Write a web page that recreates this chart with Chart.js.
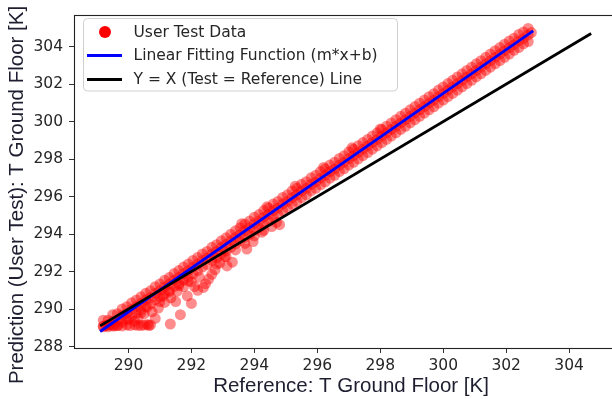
<!DOCTYPE html>
<html>
<head>
<meta charset="utf-8">
<script src="https://cdn.jsdelivr.net/npm/chart.js@4.4.1/dist/chart.umd.min.js"></script>
<style>
  html, body { margin: 0; padding: 0; background: #fff; overflow: hidden; width: 612px; height: 399px; }
  #wrap { position: absolute; left: 0; top: 0; width: 640px; height: 399px; }
</style>
</head>
<body>
<div id="wrap"><canvas id="c" width="640" height="399"></canvas></div>
<script>
// Reference temperature (x) and predicted temperature (y) samples, in K
const refT = [
  // core of the cloud
  289.2, 289.5, 289.8, 290.1, 290.4, 290.7, 291.0, 291.3, 291.6, 291.9, 292.2, 292.5, 292.8, 293.1, 293.4, 293.7,
  294.0, 294.3, 294.6, 294.9, 295.2, 295.5, 295.8, 296.1, 296.4, 296.7, 297.0, 297.3, 297.6, 297.9, 298.2, 298.5,
  298.8, 299.1, 299.4, 299.7, 300.0, 300.3, 300.6, 300.9, 301.2, 301.5, 301.8, 302.1, 302.4, 302.7,
  // core, between the above
  289.35, 289.65, 289.95, 290.25, 290.55, 290.85, 291.15, 291.45, 291.75, 292.05, 292.35, 292.65, 292.95, 293.25, 293.55,
  293.85, 294.15, 294.45, 294.75, 295.05, 295.35, 295.65, 295.95, 296.25, 296.55, 296.85, 297.15, 297.45, 297.75, 298.05,
  298.35, 298.65, 298.95, 299.25, 299.55, 299.85, 300.15, 300.45, 300.75, 301.05, 301.35, 301.65, 301.95, 302.25, 302.55,
  // upper side
  289.2, 289.5, 289.8, 290.1, 290.4, 290.7, 291.0, 291.3, 291.6, 291.9, 292.2, 292.5, 292.8, 293.1, 293.4, 293.7,
  294.0, 294.3, 294.6, 294.9, 295.2, 295.5, 295.8, 296.1, 296.4, 296.7, 297.0, 297.3, 297.6, 297.9, 298.2, 298.5,
  298.8, 299.1, 299.4, 299.7, 300.0, 300.3, 300.6, 300.9, 301.2, 301.5, 301.8, 302.1, 302.4, 302.7,
  289.35, 289.65, 289.95, 290.25, 290.55, 290.85, 291.15, 291.45, 291.75, 292.05, 292.35, 292.65, 292.95, 293.25, 293.55,
  293.85, 294.15, 294.45, 294.75, 295.05, 295.35, 295.65, 295.95, 296.25, 296.55, 296.85, 297.15, 297.45, 297.75, 298.05,
  298.35, 298.65, 298.95, 299.25, 299.55, 299.85, 300.15, 300.45, 300.75, 301.05, 301.35, 301.65, 301.95, 302.25, 302.55,
  // lower side
  289.2, 289.5, 289.8, 290.1, 290.4, 290.7, 291.0, 291.3, 291.6, 291.9, 292.2, 292.5, 292.8, 293.1, 293.4, 293.7,
  294.0, 294.3, 294.6, 294.9, 295.2, 295.5, 295.8, 296.1, 296.4, 296.7, 297.0, 297.3, 297.6, 297.9, 298.2, 298.5,
  298.8, 299.1, 299.4, 299.7, 300.0, 300.3, 300.6, 300.9, 301.2, 301.5, 301.8, 302.1, 302.4, 302.7,
  289.35, 289.65, 289.95, 290.25, 290.55, 290.85, 291.15, 291.45, 291.75, 292.05, 292.35, 292.65, 292.95, 293.25, 293.55,
  293.85, 294.15, 294.45, 294.75, 295.05, 295.35, 295.65, 295.95, 296.25, 296.55, 296.85, 297.15, 297.45, 297.75, 298.05,
  298.35, 298.65, 298.95, 299.25, 299.55, 299.85, 300.15, 300.45, 300.75, 301.05, 301.35, 301.65, 301.95, 302.25, 302.55,
  // floor of low predictions
  289.3, 289.55, 289.8, 290.05, 290.3, 290.5, 290.6, 290.7, 290.65,
  289.45, 289.65, 289.95, 290.2, 290.4,
  // spread under the cloud
  290.0, 290.3, 290.5, 290.75, 290.95, 291.15, 291.35, 290.2, 290.85, 291.55, 291.75, 292.0, 292.25,
  290.4, 290.6, 291.0, 291.3, 291.6, 291.9, 292.1, 291.5, 292.2,
  // scattered outliers
  291.33, 291.65, 291.87, 291.1, 292.0, 293.13, 293.3, 293.76, 293.96, 294.24,
  // low branch
  292.38, 292.45, 292.55, 292.65, 292.75, 292.9, 293.05,
  292.8, 293.1, 293.4, 293.7, 294.0, 294.3, 294.55, 294.8, 294.7,
  // upper fringe
  293.6, 294.4, 295.3, 296.2, 297.1, 298.0, 302.8
];
const predT = [
  289.05, 289.35, 289.65, 289.98, 290.30, 290.62, 290.98, 291.33, 291.70, 292.05, 292.40, 292.72, 293.08, 293.45, 293.82, 294.18,
  294.55, 294.90, 295.25, 295.60, 295.95, 296.30, 296.65, 296.98, 297.33, 297.68, 298.03, 298.36, 298.70, 299.05, 299.40, 299.75,
  300.10, 300.45, 300.80, 301.14, 301.50, 301.85, 302.20, 302.55, 302.90, 303.25, 303.60, 303.95, 304.30, 304.62,

  289.05, 289.40, 289.77, 290.13, 290.49, 290.84, 291.19, 291.54, 291.89, 292.24, 292.59, 292.94, 293.29, 293.64, 293.99,
  294.34, 294.69, 295.04, 295.39, 295.74, 296.09, 296.44, 296.78, 297.13, 297.48, 297.83, 298.18, 298.53, 298.88, 299.23,
  299.58, 299.93, 300.28, 300.63, 300.98, 301.33, 301.68, 302.03, 302.38, 302.73, 303.08, 303.43, 303.78, 304.10, 304.43,

  289.40, 289.70, 290.00, 290.33, 290.65, 290.97, 291.33, 291.68, 292.05, 292.40, 292.75, 293.07, 293.43, 293.80, 294.17, 294.53,
  294.90, 295.25, 295.60, 295.95, 296.30, 296.65, 297.00, 297.33, 297.68, 298.03, 298.38, 298.71, 299.05, 299.40, 299.75, 300.10,
  300.45, 300.80, 301.15, 301.49, 301.85, 302.20, 302.55, 302.90, 303.25, 303.60, 303.95, 304.30, 304.65, 304.97,
  289.40, 289.75, 290.12, 290.48, 290.84, 291.19, 291.54, 291.89, 292.24, 292.59, 292.94, 293.29, 293.64, 293.99, 294.34,
  294.69, 295.04, 295.39, 295.74, 296.09, 296.44, 296.79, 297.13, 297.48, 297.83, 298.18, 298.53, 298.88, 299.23, 299.58,
  299.93, 300.28, 300.63, 300.98, 301.33, 301.68, 302.03, 302.38, 302.73, 303.08, 303.43, 303.78, 304.13, 304.45, 304.78,

  289.10, 289.10, 289.30, 289.63, 289.95, 290.27, 290.63, 290.98, 291.35, 291.70, 292.05, 292.37, 292.73, 293.10, 293.47, 293.83,
  294.20, 294.55, 294.90, 295.25, 295.60, 295.95, 296.30, 296.63, 296.98, 297.33, 297.68, 298.01, 298.35, 298.70, 299.05, 299.40,
  299.75, 300.10, 300.45, 300.79, 301.15, 301.50, 301.85, 302.20, 302.55, 302.90, 303.25, 303.60, 303.95, 304.27,
  289.15, 289.12, 289.44, 289.79, 290.14, 290.49, 290.84, 291.19, 291.54, 291.89, 292.24, 292.59, 292.94, 293.29, 293.64,
  293.99, 294.34, 294.69, 295.04, 295.39, 295.74, 296.09, 296.44, 296.78, 297.13, 297.48, 297.83, 298.18, 298.53, 298.88,
  299.23, 299.58, 299.93, 300.28, 300.63, 300.98, 301.33, 301.68, 302.03, 302.38, 302.73, 303.08, 303.43, 303.80, 304.15,

  289.12, 289.10, 289.10, 289.12, 289.13, 289.15, 289.18, 289.15, 289.12,
  289.15, 289.12, 289.15, 289.15, 289.12,

  289.45, 289.50, 289.75, 289.85, 290.05, 290.35, 290.60, 289.35, 289.50, 290.95, 291.20, 291.45, 291.70,
  289.80, 290.10, 290.40, 290.90, 291.25, 291.50, 291.20, 290.40, 291.00,

  289.20, 289.70, 290.70, 290.70, 290.30, 292.30, 292.50, 293.20, 293.60, 294.10,

  291.15, 291.35, 291.60, 291.85, 292.10, 292.45, 292.80,
  292.40, 292.80, 293.15, 293.50, 293.90, 294.20, 294.40, 294.50, 294.62,

  294.55, 295.45, 296.55, 297.55, 298.60, 299.60, 304.75
];

// Least-squares fit line endpoints and the y = x reference line endpoints
const fitRef = [289.1, 302.86];
const fitPred = [288.8, 304.84];
const identityRef = [289.1, 304.7];
const identityPred = [289.1, 304.7];

const xTickValues = [290, 292, 294, 296, 298, 300, 302, 304];
const yTickValues = [288, 290, 292, 294, 296, 298, 300, 302, 304];

const seriesLabels = ['User Test Data', 'Linear Fitting Function (m*x+b)', 'Y = X (Test = Reference) Line'];
const xTitle = 'Reference: T Ground Floor [K]';
const yTitle = 'Prediction (User Test): T Ground Floor [K]';

const toPoints = (xs, ys) => xs.map((x, i) => ({ x: x, y: ys[i] }));

const TICK_FONT = { family: '"DejaVu Sans"', size: 15.5 };
const INK = '#262626';

// Frame around the plot area, axis titles and an in-plot legend
const decorations = {
  id: 'decorations',
  afterDatasetsDraw(chart) {
    const ctx = chart.ctx;
    const a = chart.chartArea;
    ctx.save();
    ctx.strokeStyle = '#222';
    ctx.lineWidth = 1.1;
    ctx.strokeRect(Math.round(a.left) + 0.5, Math.round(a.top) + 0.5, Math.round(a.right - a.left), Math.round(a.bottom - a.top));

    // legend box
    const bx = 83.5, by = 18.5, bw = 314, bh = 72.5, r = 4;
    ctx.beginPath();
    ctx.moveTo(bx + r, by);
    ctx.lineTo(bx + bw - r, by); ctx.quadraticCurveTo(bx + bw, by, bx + bw, by + r);
    ctx.lineTo(bx + bw, by + bh - r); ctx.quadraticCurveTo(bx + bw, by + bh, bx + bw - r, by + bh);
    ctx.lineTo(bx + r, by + bh); ctx.quadraticCurveTo(bx, by + bh, bx, by + bh - r);
    ctx.lineTo(bx, by + r); ctx.quadraticCurveTo(bx, by, bx + r, by);
    ctx.closePath();
    ctx.fillStyle = 'rgba(255,255,255,0.85)';
    ctx.fill();
    ctx.strokeStyle = '#d0d0d0';
    ctx.lineWidth = 1;
    ctx.stroke();

    const rows = [32, 55.5, 79.5];
    const ds = chart.data.datasets;
    ctx.font = '15.5px "DejaVu Sans"';
    ctx.textBaseline = 'middle';
    ctx.textAlign = 'left';
    ds.forEach((d, i) => {
      const y = rows[i];
      if (!d.showLine) {
        ctx.beginPath();
        ctx.arc(105, y, 6, 0, Math.PI * 2);
        ctx.fillStyle = d.legendColor;
        ctx.fill();
      } else {
        ctx.beginPath();
        ctx.moveTo(87, y);
        ctx.lineTo(122, y);
        ctx.strokeStyle = d.borderColor;
        ctx.lineWidth = d.borderWidth;
        ctx.stroke();
      }
      ctx.fillStyle = INK;
      ctx.fillText(d.label, 133.5, y + 0.5);
    });

    // axis titles
    ctx.fillStyle = '#1e1e30';
    ctx.font = '20.5px "Liberation Sans"';
    ctx.textAlign = 'center';
    ctx.textBaseline = 'middle';
    ctx.fillText(xTitle, 351, 386);
    ctx.translate(17, 195);
    ctx.rotate(-Math.PI / 2);
    ctx.fillText(yTitle, 0, 0);
    ctx.restore();
  }
};

new Chart(document.getElementById('c'), {
  type: 'scatter',
  data: {
    datasets: [
      {
        label: seriesLabels[0],
        data: toPoints(refT, predT),
        backgroundColor: 'rgba(255,0,0,0.45)',
        legendColor: '#ff0000',
        borderWidth: 0,
        pointRadius: 5.5,
        pointHoverRadius: 5.5,
        showLine: false,
        order: 2
      },
      {
        label: seriesLabels[1],
        data: toPoints(fitRef, fitPred),
        showLine: true,
        borderColor: '#0000ff',
        borderWidth: 2.8,
        pointRadius: 0,
        fill: false,
        order: 1
      },
      {
        label: seriesLabels[2],
        data: toPoints(identityRef, identityPred),
        showLine: true,
        borderColor: '#000000',
        borderWidth: 2.8,
        pointRadius: 0,
        fill: false,
        order: 0
      }
    ]
  },
  options: {
    responsive: false,
    animation: false,
    devicePixelRatio: 1,
    layout: { padding: { top: 11, right: 12, left: 0, bottom: 0 } },
    plugins: { legend: { display: false }, tooltip: { enabled: false } },
    scales: {
      x: {
        type: 'linear',
        min: 288.27,
        max: 305.87,
        afterFit(s) { s.height = 51; },
        afterBuildTicks(s) { s.ticks = xTickValues.map(v => ({ value: v })); },
        grid: { display: true, drawOnChartArea: false, drawTicks: true, tickLength: 5, color: '#333', lineWidth: 1 },
        border: { display: false },
        ticks: { font: TICK_FONT, color: INK, padding: 4, maxRotation: 0, autoSkip: false, callback: v => String(v) }
      },
      y: {
        type: 'linear',
        min: 287.92,
        max: 305.67,
        afterFit(s) { s.width = 74; },
        afterBuildTicks(s) { s.ticks = yTickValues.map(v => ({ value: v })); },
        grid: { display: true, drawOnChartArea: false, drawTicks: true, tickLength: 5, color: '#333', lineWidth: 1 },
        border: { display: false },
        ticks: { font: TICK_FONT, color: INK, padding: 6, autoSkip: false, callback: v => String(v) }
      }
    }
  },
  plugins: [decorations]
});
</script>
</body>
</html>
